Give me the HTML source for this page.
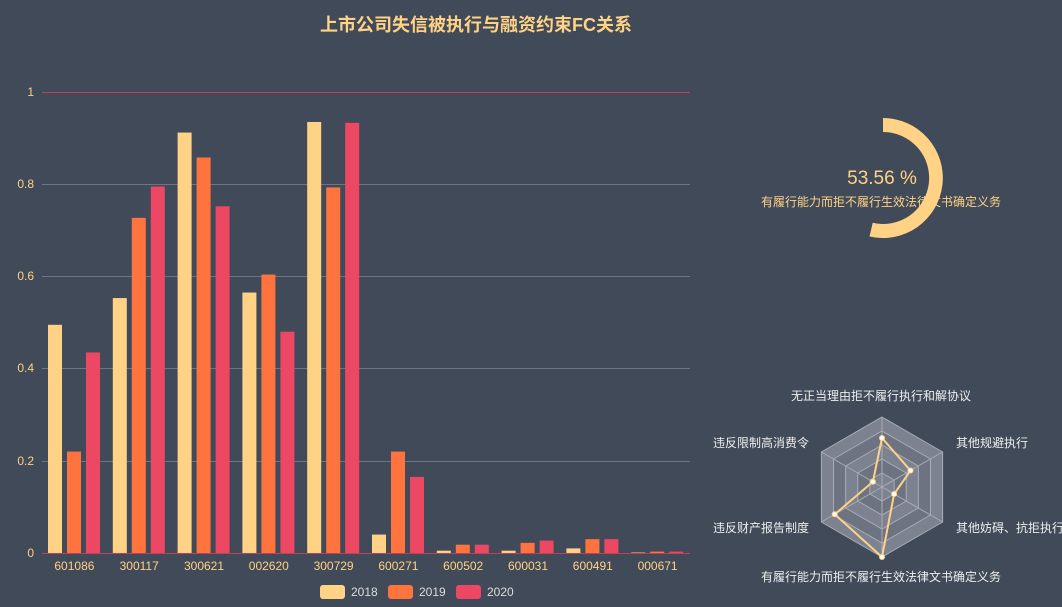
<!DOCTYPE html>
<html><head><meta charset="utf-8"><style>
body{margin:0;background:#404a59;}
svg{display:block;font-family:"Liberation Sans","Noto Sans CJK SC",sans-serif;}
</style></head><body>
<svg width="1062" height="607" viewBox="0 0 1062 607" xmlns="http://www.w3.org/2000/svg">
<rect width="1062" height="607" fill="#404a59"/>
<text x="476" y="31" text-anchor="middle" font-size="18" font-weight="bold" fill="#ffd285">上市公司失信被执行与融资约束FC关系</text>
<g stroke="#6e7582" stroke-width="1">
<line x1="42" y1="184.5" x2="690" y2="184.5"/><line x1="42" y1="276.5" x2="690" y2="276.5"/>
<line x1="42" y1="368.5" x2="690" y2="368.5"/><line x1="42" y1="461.5" x2="690" y2="461.5"/>
</g>
<line x1="42" y1="92.5" x2="690" y2="92.5" stroke="#c0405a"/>
<line x1="42" y1="553.5" x2="690" y2="553.5" stroke="#c0405a"/>
<g font-size="12" fill="#ffd285" text-anchor="end">
<text x="34" y="96">1</text><text x="34" y="188">0.8</text><text x="34" y="280">0.6</text>
<text x="34" y="372">0.4</text><text x="34" y="465">0.2</text><text x="34" y="557">0</text>
</g>
<g id="bars"></g>
<g font-size="12" fill="#ffd285" text-anchor="middle" id="xl"></g>
<g font-size="12" fill="#ffd285">
<rect x="320" y="585" width="25" height="14" rx="3" fill="#ffd285"/><text x="351" y="596" fill="#ddd">2018</text>
<rect x="388" y="585" width="25" height="14" rx="3" fill="#ff733f"/><text x="419" y="596" fill="#ddd">2019</text>
<rect x="456" y="585" width="25" height="14" rx="3" fill="#ec4863"/><text x="487" y="596" fill="#ddd">2020</text>
</g>
<!-- gauge -->
<path d="M883 118 A60 60 0 1 1 869.5 236.5 L872.7 222.8 A46 46 0 1 0 883 132 Z" fill="#ffd285"/>
<text x="882" y="184" text-anchor="middle" font-size="19" fill="#ffd285">53.56 %</text>
<text x="881" y="206" text-anchor="middle" font-size="12" fill="#ffd285">有履行能力而拒不履行生效法律文书确定义务</text>
<!-- radar -->
<g id="radar"></g>
<g font-size="12" fill="#eee">
<text x="881" y="400" text-anchor="middle">无正当理由拒不履行执行和解协议</text>
<text x="956" y="447">其他规避执行</text>
<text x="956" y="532">其他妨碍、抗拒执行</text>
<text x="881" y="581" text-anchor="middle">有履行能力而拒不履行生效法律文书确定义务</text>
<text x="809" y="532" text-anchor="end">违反财产报告制度</text>
<text x="809" y="447" text-anchor="end">违反限制高消费令</text>
</g>
<script>
var ns="http://www.w3.org/2000/svg";
var d=[["601086",.495,.22,.435],["300117",.553,.727,.795],["300621",.912,.858,.752],["002620",.565,.604,.48],["300729",.935,.793,.933],["600271",.04,.22,.165],["600502",.005,.018,.018],["600031",.005,.022,.027],["600491",.01,.03,.03],["000671",.001,.003,.003]];
var cols=["#ffd285","#ff733f","#ec4863"],off=[6,25,44];
var b=document.getElementById("bars"),xl=document.getElementById("xl");
d.forEach(function(r,i){var x0=42+i*64.8;
for(var k=0;k<3;k++){var h=r[k+1]*461;var e=document.createElementNS(ns,"rect");
e.setAttribute("x",x0+off[k]);e.setAttribute("y",553-h);e.setAttribute("width",14);e.setAttribute("height",h);e.setAttribute("fill",cols[k]);b.appendChild(e);}
var t=document.createElementNS(ns,"text");t.setAttribute("x",x0+32.4);t.setAttribute("y",570);t.textContent=r[0];xl.appendChild(t);});
var rg=document.getElementById("radar"),cx=882,cy=487,R=70;
function pt(a,v){var an=(-90+60*a)*Math.PI/180;return [cx+R*v*Math.cos(an),cy+R*v*Math.sin(an)];}
for(var l=5;l>=1;l--){var p=[];for(var a=0;a<6;a++)p.push(pt(a,l/5).join(","));
var e=document.createElementNS(ns,"polygon");e.setAttribute("points",p.join(" "));e.setAttribute("fill",l%2?"#7c8290":"#6d7380");e.setAttribute("stroke","#a9acb3");rg.appendChild(e);}
for(var a=0;a<6;a++){var q=pt(a,1);var e=document.createElementNS(ns,"line");e.setAttribute("x1",cx);e.setAttribute("y1",cy);e.setAttribute("x2",q[0]);e.setAttribute("y2",q[1]);e.setAttribute("stroke","#a9acb3");rg.appendChild(e);}
var vals=[.7,.47,.2,1,.78,.15];var p=vals.map(function(v,a){return pt(a,v);});
var e=document.createElementNS(ns,"polygon");e.setAttribute("points",p.map(function(q){return q.join(",")}).join(" "));e.setAttribute("fill","none");e.setAttribute("stroke","#ffd285");e.setAttribute("stroke-width","2");rg.appendChild(e);
p.forEach(function(q){var c=document.createElementNS(ns,"circle");c.setAttribute("cx",q[0]);c.setAttribute("cy",q[1]);c.setAttribute("r",2.5);c.setAttribute("fill","#fff");c.setAttribute("stroke","#ffd285");rg.appendChild(c);});
</script>
</svg>
</body></html>
